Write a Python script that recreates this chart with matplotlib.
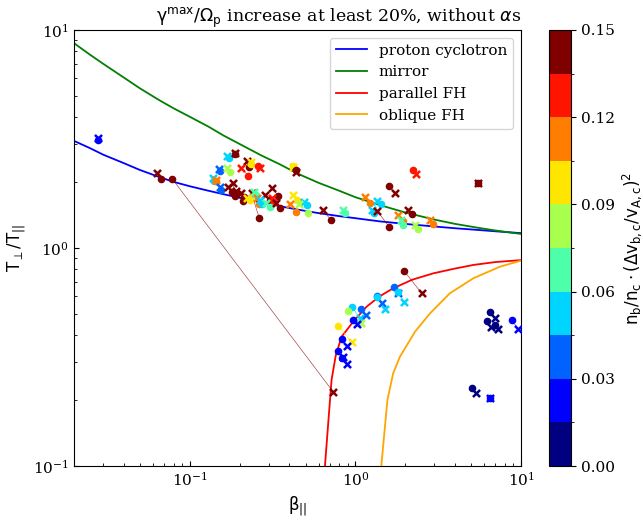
import matplotlib.pyplot as plt
import matplotlib as mpl
import numpy as np

plt.rcParams["font.family"] = "DejaVu Serif"
plt.rcParams["mathtext.fontset"] = "dejavusans"
plt.rcParams["font.size"] = 11

# instability thresholds
pc_beta = [0.02, 0.025, 0.03, 0.04, 0.05, 0.065, 0.08, 0.1, 0.13, 0.16, 0.2, 0.27, 0.35,
           0.45, 0.6, 0.8, 1.0, 1.4, 2.0, 3.0, 4.0, 5.5, 7.0, 10.0]
pc_t = [3.10, 2.87, 2.68, 2.45, 2.28, 2.12, 2.01, 1.92, 1.83, 1.765, 1.70, 1.62, 1.555,
        1.50, 1.445, 1.40, 1.37, 1.325, 1.29, 1.255, 1.232, 1.21, 1.193, 1.17]

mir_beta = [0.02, 0.025, 0.03, 0.04, 0.05, 0.065, 0.08, 0.1, 0.13, 0.16, 0.2, 0.27, 0.35,
            0.45, 0.6, 0.8, 1.0, 1.4, 2.0, 3.0, 4.0, 5.5, 7.0, 10.0]
mir_t = [8.7, 7.7, 7.0, 6.05, 5.4, 4.78, 4.37, 4.0, 3.6, 3.28, 3.0, 2.66, 2.42,
         2.19, 1.99, 1.83, 1.71, 1.575, 1.455, 1.35, 1.29, 1.238, 1.203, 1.16]

pfh_beta = [0.655, 0.695, 0.718, 0.762, 0.826, 0.97, 1.169, 1.4, 1.69, 2.2, 2.95, 4.0,
            5.15, 7.0, 10.0]
pfh_t = [0.1, 0.18, 0.248, 0.323, 0.392, 0.459, 0.538, 0.60, 0.653, 0.715, 0.765, 0.805,
         0.836, 0.862, 0.88]

ofh_beta = [1.434, 1.56, 1.69, 1.857, 2.29, 2.82, 3.72, 5.15, 7.47, 10.0]
ofh_t = [0.1, 0.2, 0.266, 0.317, 0.413, 0.501, 0.62, 0.726, 0.821, 0.875]

# runs: start (circle) -> end (cross), coloured by beam parameter
beta_start = [0.0278, 0.0675, 0.0786, 0.172, 0.1888, 0.2273, 0.2337, 0.2251, 0.2566, 0.1533,
              0.1761, 0.1406, 0.1446, 0.1554, 0.1888, 0.1794, 0.2099, 0.212, 0.2622, 0.2505,
              0.3416, 0.3043, 0.3218, 0.2304, 0.2622, 0.2723, 0.3043, 0.3499, 0.4448, 0.4351,
              0.5071, 0.5186, 0.7084, 0.8641, 0.4208, 0.4369, 1.224, 1.420, 1.299, 1.600,
              1.600, 2.216, 2.204, 1.945, 1.945, 2.952, 2.396, 5.476, 1.964, 1.708,
              1.799, 1.343, 1.354, 0.9566, 0.9047, 1.075, 0.970, 0.787, 0.8253, 0.7805,
              0.8253, 6.497, 6.204, 6.965, 8.787, 5.078, 6.542]
t_start = [3.13, 2.07, 2.07, 2.58, 2.70, 2.35, 2.44, 2.14, 2.38, 2.26,
           2.22, 2.03, 2.04, 1.845, 1.73, 1.81, 1.64, 1.71, 1.38, 1.75,
           1.74, 1.66, 1.63, 1.66, 1.60, 1.60, 1.55, 1.52, 1.66, 1.47,
           1.58, 1.44, 1.35, 1.45, 2.39, 2.27, 1.61, 1.59, 1.45, 1.25,
           1.92, 2.28, 1.43, 1.33, 1.275, 1.29, 1.22, 1.99, 0.787, 0.665,
           0.630, 0.602, 0.596, 0.535, 0.514, 0.525, 0.467, 0.440, 0.381, 0.337,
           0.312, 0.507, 0.463, 0.444, 0.467, 0.229, 0.205]
beta_end = [0.0280, 0.0634, 0.734, 0.1667, 0.1888, 0.2201, 0.2337, 0.2053, 0.2649, 0.1503,
            0.1667, 0.1372, 0.1446, 0.1518, 0.1826, 0.1703, 0.1897, 0.2025, 0.2360, 0.2436,
            0.3143, 0.2839, 0.3117, 0.2211, 0.2540, 0.2649, 0.2878, 0.3308, 0.4208, 0.4018,
            0.4905, 0.4573, 0.6337, 0.837, 0.4208, 0.4369, 1.141, 1.354, 1.253, 1.354,
            1.733, 2.320, 2.085, 1.814, 1.876, 2.819, 2.288, 5.476, 2.512, 1.814,
            1.964, 1.440, 1.514, 1.065, 1.080, 1.152, 1.017, 0.9484, 0.8848, 0.8437,
            0.8848, 6.965, 6.588, 7.292, 9.631, 5.325, 6.542]
t_end = [3.20, 2.20, 0.219, 2.65, 2.73, 2.51, 2.48, 2.34, 2.32, 2.30,
         2.34, 2.09, 2.05, 1.90, 1.99, 1.91, 1.83, 1.78, 1.78, 1.81,
         1.89, 1.75, 1.69, 1.70, 1.70, 1.66, 1.61, 1.61, 1.75, 1.60,
         1.63, 1.60, 1.50, 1.49, 2.35, 2.24, 1.72, 1.65, 1.50, 1.48,
         1.79, 2.19, 1.49, 1.42, 1.34, 1.34, 1.275, 1.98, 0.620, 0.620,
         0.567, 0.561, 0.525, 0.476, 0.451, 0.493, 0.448, 0.372, 0.355, 0.316,
         0.294, 0.476, 0.436, 0.424, 0.426, 0.217, 0.2045]
beam = [0.0225, 0.145, 0.145, 0.0525, 0.145, 0.145, 0.0975, 0.1275, 0.1275, 0.0375,
        0.0825, 0.0525, 0.1125, 0.0375, 0.145, 0.145, 0.145, 0.145, 0.145, 0.0675,
        0.145, 0.145, 0.1275, 0.0975, 0.1125, 0.0525, 0.0675, 0.145, 0.0975, 0.1125,
        0.0525, 0.0825, 0.145, 0.0675, 0.0975, 0.145, 0.1125, 0.0525, 0.0525, 0.145,
        0.145, 0.1275, 0.145, 0.1125, 0.0675, 0.1125, 0.0825, 0.145, 0.145, 0.0375,
        0.0525, 0.0375, 0.0525, 0.0525, 0.0825, 0.0375, 0.0225, 0.0975, 0.0225, 0.0225,
        0.0225, 0.0075, 0.0075, 0.0075, 0.0225, 0.0075, 0.0225]

cmap = plt.get_cmap("jet", 10)
bounds = np.linspace(0, 0.15, 11)
norm = mpl.colors.BoundaryNorm(bounds, cmap.N)

fig = plt.figure(figsize=(6.43, 5.22), dpi=100)
ax = fig.add_axes([74 / 643, 1 - 466 / 522, 447 / 643, 436 / 522])
cax = fig.add_axes([549 / 643, 1 - 466 / 522, 22 / 643, 436 / 522])

ax.plot(pc_beta, pc_t, color="blue", lw=1.3, label="proton cyclotron")
ax.plot(mir_beta, mir_t, color="green", lw=1.3, label="mirror")
ax.plot(pfh_beta, pfh_t, color="red", lw=1.3, label="parallel FH")
ax.plot(ofh_beta, ofh_t, color="orange", lw=1.3, label="oblique FH")

for b0, t0, b1, t1, v in zip(beta_start, t_start, beta_end, t_end, beam):
    c = cmap(norm(v))
    ax.plot([b0, b1], [t0, t1], color=c, lw=0.5, alpha=0.7)
    ax.scatter(b0, t0, color=c, marker="o", s=20, zorder=3)
    ax.scatter(b1, t1, color=c, marker="x", s=26, linewidths=1.8, zorder=3)

ax.set_xscale("log")
ax.set_yscale("log")
ax.set_xlim(0.02, 10)
ax.set_ylim(0.1, 10)
ax.tick_params(which="both", direction="in")
ax.set_xlabel(r"$\mathrm{\beta_{||}}$", fontsize=12)
ax.set_ylabel(r"$\mathrm{T_\perp/T_{||}}$", fontsize=12)
ax.set_title(r"$\mathrm{\gamma^{max}/\Omega_p}$ increase at least 20%, without $\alpha$s",
             loc="right", fontsize=12.5)
ax.legend(loc="upper right", fontsize=11)

sm = mpl.cm.ScalarMappable(norm=norm, cmap=cmap)
cb = fig.colorbar(sm, cax=cax, ticks=np.linspace(0, 0.15, 6), format="%.2f")
cb.set_label(r"$\mathrm{n_b/n_c \cdot (\Delta v_{b,c}/v_{A,c})^2}$", fontsize=12)

fig.savefig("out.png", dpi=100)
